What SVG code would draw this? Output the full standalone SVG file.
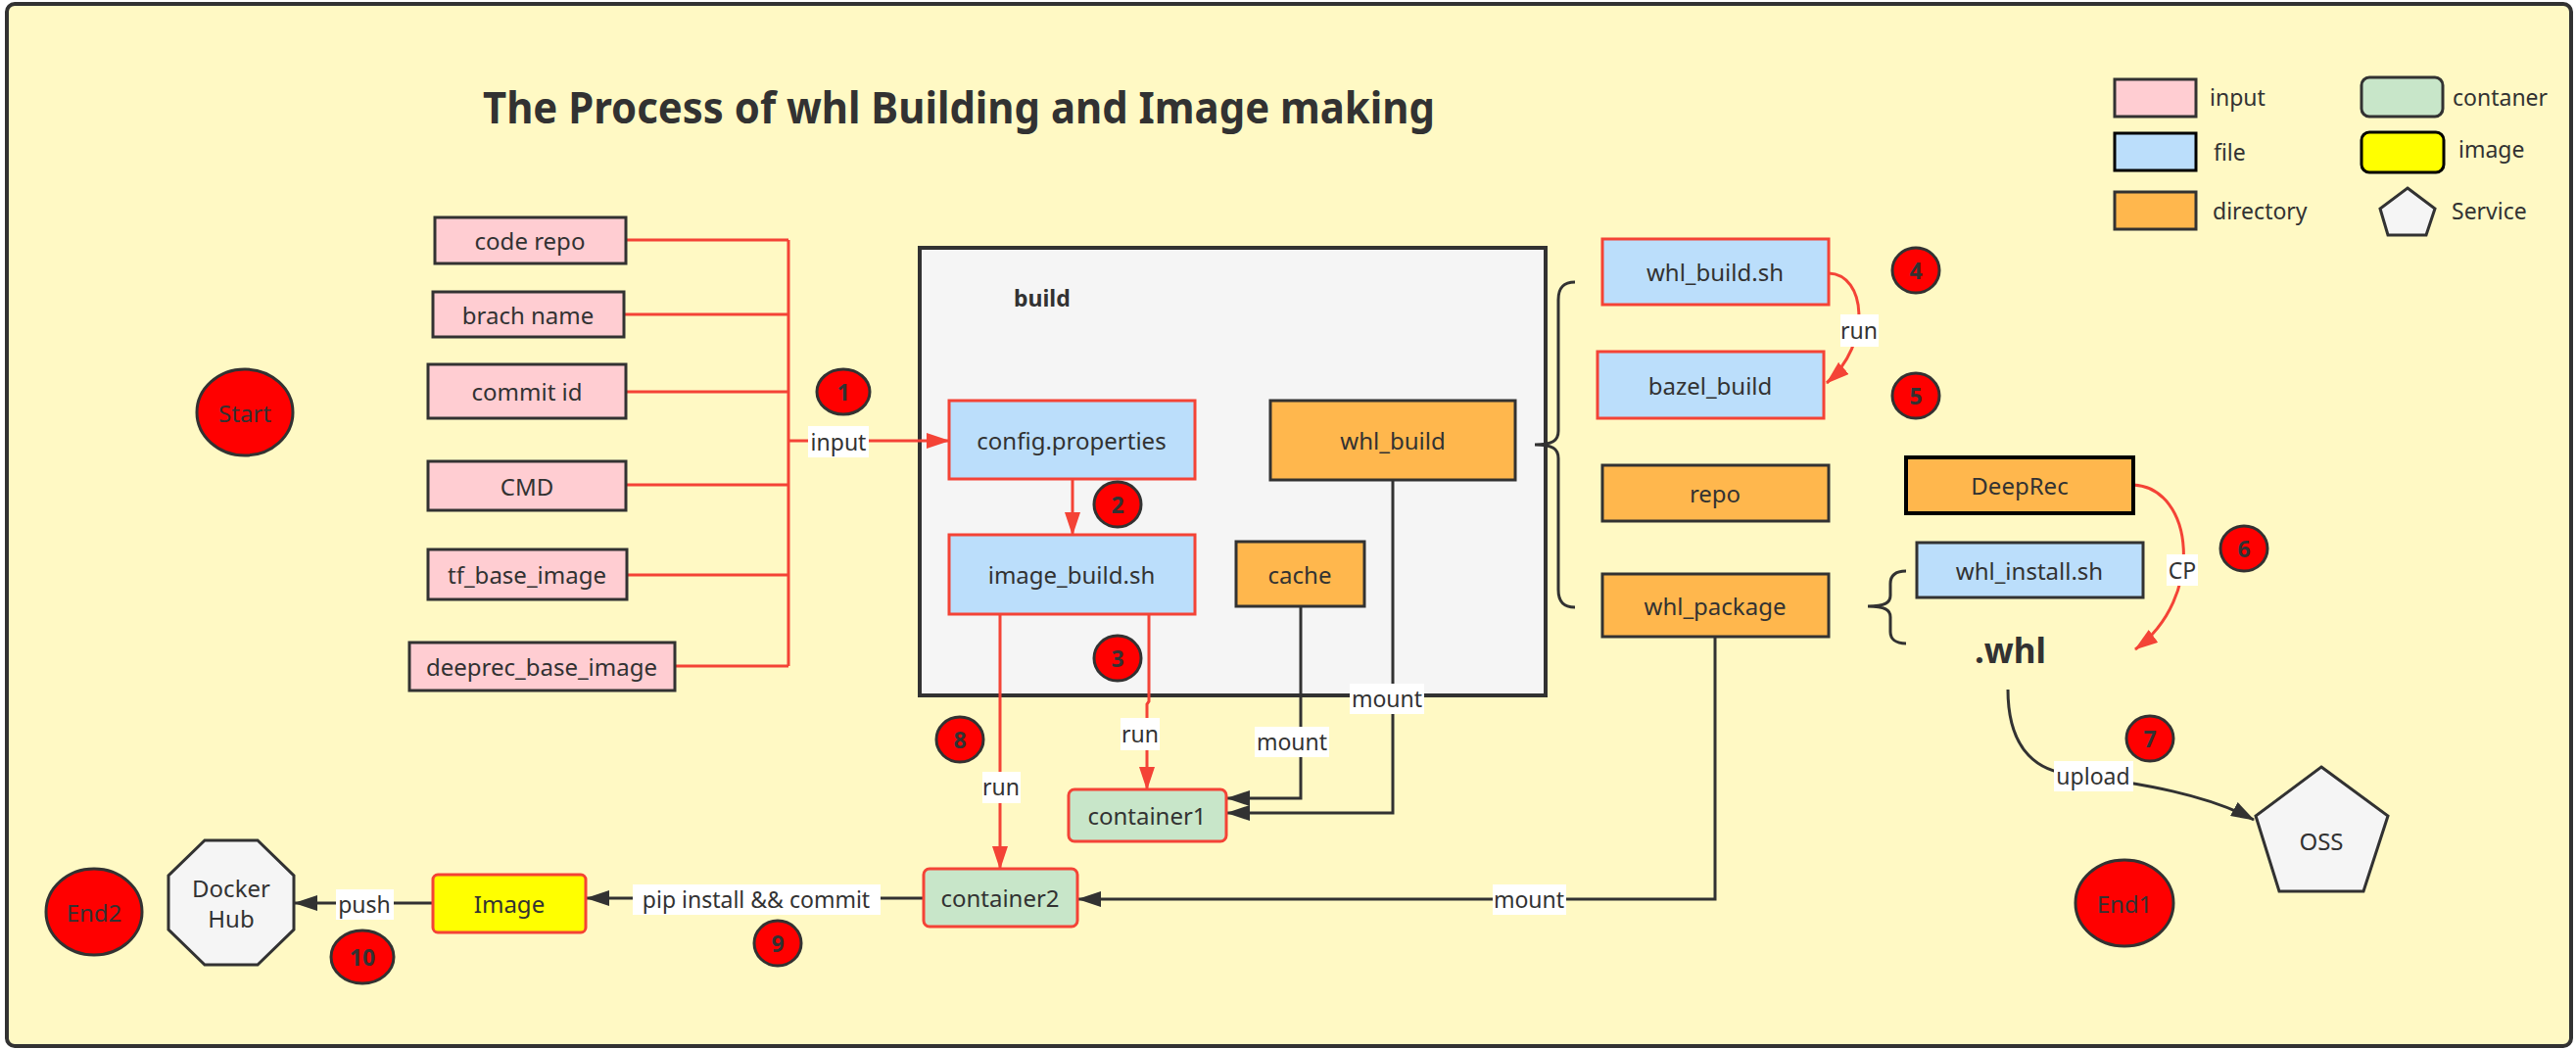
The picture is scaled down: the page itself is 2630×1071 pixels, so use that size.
<svg xmlns="http://www.w3.org/2000/svg" width="2630" height="1071" viewBox="0 0 2630 1071">
<style>
text{font-family:"Noto Sans","Open Sans","DejaVu Sans",sans-serif;fill:#323232}
.t{font-size:24px;text-anchor:middle;dominant-baseline:central}
.lg{font-size:23px}
.lb{font-size:23px;text-anchor:middle;dominant-baseline:central}
.num{font-size:23px;font-weight:bold;text-anchor:middle;dominant-baseline:central}
.inp{fill:#FFCDD2;stroke:#323232;stroke-width:3}
.file{fill:#BBDEFB;stroke:#F44336;stroke-width:3}
.filed{fill:#BBDEFB;stroke:#323232;stroke-width:3}
.dir{fill:#FFB74D;stroke:#323232;stroke-width:3}
.cont{fill:#C8E6C9;stroke:#F44336;stroke-width:3}
.circ{fill:#FF0000;stroke:#323232;stroke-width:3}
.red{fill:none;stroke:#F44336;stroke-width:3}
.blk{fill:none;stroke:#323232;stroke-width:3}
.bg{fill:#ffffff}
</style>
<defs>
<marker id="ar" viewBox="0 0 24 16" refX="23" refY="8" markerWidth="24" markerHeight="16" markerUnits="userSpaceOnUse" orient="auto"><path d="M0,0 L24,8 L0,16 z" fill="#F44336"/></marker>
<marker id="ab" viewBox="0 0 24 16" refX="23" refY="8" markerWidth="24" markerHeight="16" markerUnits="userSpaceOnUse" orient="auto"><path d="M0,0 L24,8 L0,16 z" fill="#323232"/></marker>
</defs>
<rect x="0" y="0" width="2630" height="1071" fill="#ffffff"/>
<rect x="7" y="4" width="2618" height="1064" rx="8" fill="#FFF9C4" stroke="#323232" stroke-width="4"/>
<text x="493" y="126" font-size="44" font-weight="bold" textLength="972" lengthAdjust="spacingAndGlyphs">The Process of whl Building and Image making</text>

<g id="legend">
<rect x="2159" y="81" width="83" height="38" class="inp"/><text x="2256" y="108" class="lg">input</text>
<rect x="2159" y="136" width="83" height="38" fill="#BBDEFB" stroke="#000" stroke-width="3"/><text x="2260" y="164" class="lg">file</text>
<rect x="2159" y="196" width="83" height="38" class="dir"/><text x="2259" y="224" class="lg">directory</text>
<rect x="2411" y="79" width="83" height="40" rx="8" fill="#C8E6C9" stroke="#323232" stroke-width="3"/><text x="2504" y="108" class="lg">contaner</text>
<rect x="2411" y="135" width="84" height="41" rx="8" fill="#FFFF00" stroke="#000" stroke-width="3"/><text x="2510" y="161" class="lg">image</text>
<polygon points="2458,192 2486,213 2477,240 2438,240 2430,213" fill="#F5F5F5" stroke="#323232" stroke-width="3"/><text x="2503" y="224" class="lg">Service</text>
</g>

<g id="build">
<rect x="939" y="253" width="639" height="457" fill="#F5F5F5" stroke="#323232" stroke-width="4"/>
<text x="1035" y="313" font-size="23" font-weight="bold">build</text>
</g>

<g id="connectors">
<path class="red" d="M639,245 H805 M637,321 H805 M639,400 H805 M639,495 H805 M640,587 H805 M689,680 H805 M805,245 V680"/>
<path class="red" d="M805,450 H969" marker-end="url(#ar)"/>
<rect class="bg" x="825" y="435" width="62" height="32"/><text class="lb" x="856" y="451">input</text>
<path class="red" d="M1095,489 V546" marker-end="url(#ar)"/>
<path class="red" d="M1173,627 V716 L1171,719 V806" marker-end="url(#ar)"/>
<rect class="bg" x="1144" y="733" width="40" height="33"/><text class="lb" x="1164" y="749">run</text>
<path class="red" d="M1021,627 V887" marker-end="url(#ar)"/>
<rect class="bg" x="1003" y="788" width="39" height="32"/><text class="lb" x="1022" y="803">run</text>
<path class="blk" d="M1328,619 V815 H1253" marker-end="url(#ab)"/>
<rect class="bg" x="1281" y="742" width="76" height="31"/><text class="lb" x="1319" y="757">mount</text>
<path class="blk" d="M1422,490 V830 H1253" marker-end="url(#ab)"/>
<rect class="bg" x="1378" y="698" width="76" height="31"/><text class="lb" x="1416" y="713">mount</text>
<path class="blk" d="M1751,650 V918 H1101" marker-end="url(#ab)"/>
<rect class="bg" x="1524" y="903" width="75" height="31"/><text class="lb" x="1561" y="918">mount</text>
<path class="blk" d="M943,917 H599" marker-end="url(#ab)"/>
<rect class="bg" x="646" y="903" width="253" height="31"/><text class="lb" x="772" y="918">pip install &amp;&amp; commit</text>
<path class="blk" d="M442,922 H301" marker-end="url(#ab)"/>
<rect class="bg" x="343" y="908" width="59" height="31"/><text class="lb" x="372" y="923">push</text>
<path class="red" d="M1867,279 C1905,280 1912,350 1865,391" marker-end="url(#ar)"/>
<rect class="bg" x="1879" y="321" width="39" height="33"/><text class="lb" x="1898" y="337">run</text>
<path class="red" d="M2178,495 C2240,498 2252,610 2180,663" marker-end="url(#ar)"/>
<rect class="bg" x="2212" y="566" width="32" height="32"/><text class="lb" x="2228" y="582">CP</text>
<path class="blk" d="M2050,704 C2050,760 2075,785 2110,790 C2190,800 2255,812 2301,837" marker-end="url(#ab)"/>
<rect class="bg" x="2097" y="777" width="81" height="31"/><text class="lb" x="2137" y="792">upload</text>
<path class="blk" d="M1608,288 C1596,288 1591,294 1591,306 V440 C1591,450 1585,454 1567,454 C1585,454 1591,458 1591,468 V602 C1591,614 1596,620 1608,620"/>
<path class="blk" d="M1946,583 C1935,583 1930,588 1930,596 V608 C1930,615 1925,619 1907,619 C1925,619 1930,623 1930,630 V645 C1930,652 1935,657 1946,657"/>
</g>

<g id="start"><ellipse cx="250" cy="421" rx="49" ry="44" class="circ"/><text class="t" x="250" y="421">Start</text></g>
<g id="end2"><ellipse cx="96" cy="931" rx="49" ry="44" class="circ"/><text class="t" x="96" y="931">End2</text></g>
<g id="end1"><ellipse cx="2169" cy="922" rx="50" ry="44" class="circ"/><text class="t" x="2169" y="922">End1</text></g>

<g id="code-repo"><rect x="444" y="222" width="195" height="47" class="inp"/><text class="t" x="541" y="245">code repo</text></g>
<g id="brach-name"><rect x="442" y="298" width="195" height="46" class="inp"/><text class="t" x="539" y="321">brach name</text></g>
<g id="commit-id"><rect x="437" y="372" width="202" height="55" class="inp"/><text class="t" x="538" y="399">commit id</text></g>
<g id="cmd"><rect x="437" y="471" width="202" height="50" class="inp"/><text class="t" x="538" y="496">CMD</text></g>
<g id="tf-base-image"><rect x="437" y="561" width="203" height="51" class="inp"/><text class="t" x="538" y="586">tf_base_image</text></g>
<g id="deeprec-base-image"><rect x="418" y="656" width="271" height="49" class="inp"/><text class="t" x="553" y="680">deeprec_base_image</text></g>

<g id="config-properties"><rect x="969" y="409" width="251" height="80" class="file"/><text class="t" x="1094" y="449">config.properties</text></g>
<g id="image-build-sh"><rect x="969" y="546" width="251" height="81" class="file"/><text class="t" x="1094" y="586">image_build.sh</text></g>
<g id="whl-build"><rect x="1297" y="409" width="250" height="81" class="dir"/><text class="t" x="1422" y="449">whl_build</text></g>
<g id="cache"><rect x="1262" y="553" width="131" height="66" class="dir"/><text class="t" x="1327" y="586">cache</text></g>

<g id="whl-build-sh"><rect x="1636" y="244" width="231" height="67" class="file"/><text class="t" x="1751" y="277">whl_build.sh</text></g>
<g id="bazel-build"><rect x="1631" y="359" width="231" height="68" class="file"/><text class="t" x="1746" y="393">bazel_build</text></g>
<g id="repo"><rect x="1636" y="475" width="231" height="57" class="dir"/><text class="t" x="1751" y="503">repo</text></g>
<g id="whl-package"><rect x="1636" y="586" width="231" height="64" class="dir"/><text class="t" x="1751" y="618">whl_package</text></g>
<g id="deeprec"><rect x="1946" y="467" width="232" height="57" fill="#FFB74D" stroke="#000" stroke-width="4"/><text class="t" x="2062" y="495">DeepRec</text></g>
<g id="whl-install-sh"><rect x="1957" y="554" width="231" height="56" class="filed"/><text class="t" x="2072" y="582">whl_install.sh</text></g>
<g id="whl"><text x="2016" y="677" font-size="35" font-weight="bold">.whl</text></g>

<g id="container1"><rect x="1091" y="806" width="161" height="53" rx="6" class="cont"/><text class="t" x="1171" y="832">container1</text></g>
<g id="container2"><rect x="943" y="887" width="157" height="59" rx="6" class="cont"/><text class="t" x="1021" y="916">container2</text></g>
<g id="image"><rect x="442" y="893" width="156" height="59" rx="5" fill="#FFFF00" stroke="#F44336" stroke-width="3"/><text class="t" x="520" y="922">Image</text></g>
<g id="docker-hub"><polygon points="209,858 263,858 300,894 300,949 263,985 209,985 172,949 172,894" fill="#F5F5F5" stroke="#323232" stroke-width="3"/><text class="t" x="236" y="906">Docker</text><text class="t" x="236" y="937">Hub</text></g>
<g id="oss"><polygon points="2370,783 2438,833 2413,910 2327,910 2303,833" fill="#F5F5F5" stroke="#323232" stroke-width="3"/><text class="t" x="2370" y="858">OSS</text></g>

<g id="step1"><ellipse cx="861" cy="400" rx="27" ry="23" class="circ"/><text class="num" x="861" y="400">1</text></g>
<g id="step2"><ellipse cx="1141" cy="515" rx="24" ry="23" class="circ"/><text class="num" x="1141" y="515">2</text></g>
<g id="step3"><ellipse cx="1141" cy="672" rx="24" ry="23" class="circ"/><text class="num" x="1141" y="672">3</text></g>
<g id="step4"><ellipse cx="1956" cy="276" rx="24" ry="23" class="circ"/><text class="num" x="1956" y="276">4</text></g>
<g id="step5"><ellipse cx="1956" cy="404" rx="24" ry="23" class="circ"/><text class="num" x="1956" y="404">5</text></g>
<g id="step6"><ellipse cx="2291" cy="560" rx="24" ry="23" class="circ"/><text class="num" x="2291" y="560">6</text></g>
<g id="step7"><ellipse cx="2195" cy="754" rx="24" ry="23" class="circ"/><text class="num" x="2195" y="754">7</text></g>
<g id="step8"><ellipse cx="980" cy="755" rx="24" ry="23" class="circ"/><text class="num" x="980" y="755">8</text></g>
<g id="step9"><ellipse cx="794" cy="963" rx="24" ry="23" class="circ"/><text class="num" x="794" y="963">9</text></g>
<g id="step10"><ellipse cx="370" cy="977" rx="32" ry="27" class="circ"/><text class="num" x="370" y="977">10</text></g>
</svg>
